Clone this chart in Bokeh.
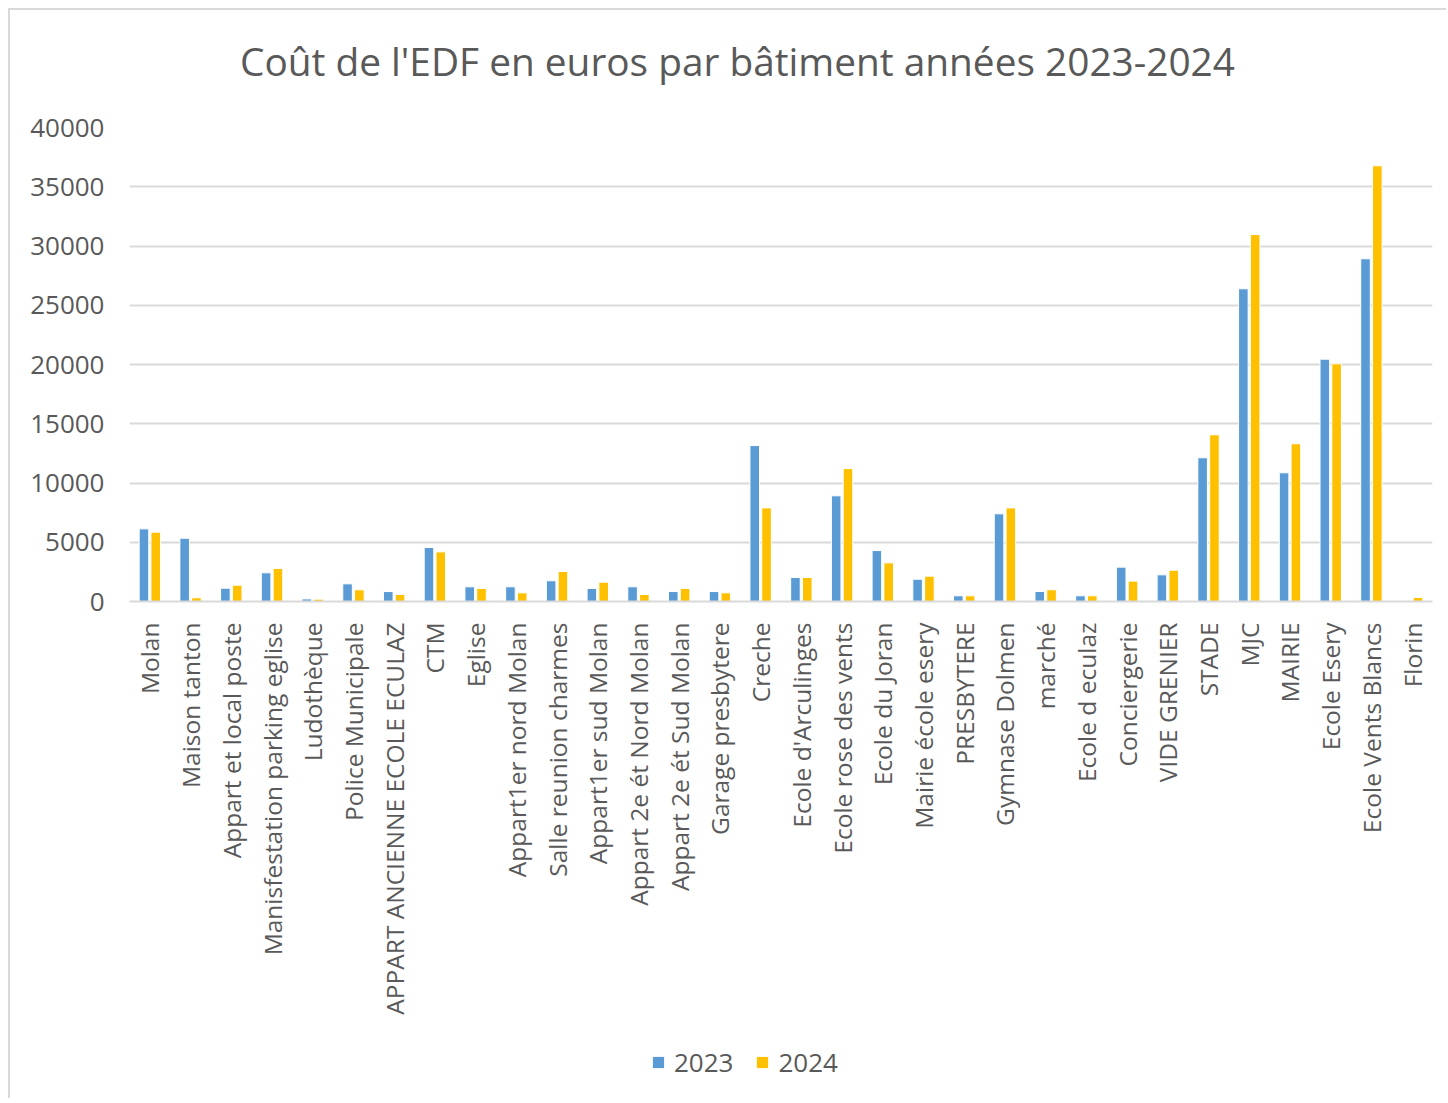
from bokeh.plotting import figure
from bokeh.layouts import column
from bokeh.models import ColumnDataSource, FactorRange, Legend, LegendItem, SingleIntervalTicker
from bokeh.core.properties import value
from bokeh.transform import dodge
from bokeh.embed import file_html
from bokeh.resources import INLINE

title_text = "Coût de l'EDF en euros par bâtiment années 2023-2024"

categories = ["Molan", "Maison tanton", "Appart et local poste", "Manisfestation parking eglise",
              "Ludothèque", "Police Municipale", "APPART ANCIENNE ECOLE ECULAZ", "CTM", "Eglise",
              "Appart1er nord Molan", "Salle reunion charmes", "Appart1er sud Molan",
              "Appart 2e ét Nord Molan", "Appart 2e ét Sud Molan", "Garage presbytere", "Creche",
              "Ecole d'Arculinges", "Ecole rose des vents", "Ecole du Joran", "Mairie école esery",
              "PRESBYTERE", "Gymnase Dolmen", "marché", "Ecole d eculaz", "Conciergerie",
              "VIDE GRENIER", "STADE", "MJC", "MAIRIE", "Ecole Esery", "Ecole Vents Blancs", "Florin"]

values_2023 = [6130, 5340, 1120, 2420, 220, 1490, 840, 4560, 1240,
               1240, 1750, 1100, 1240, 840, 840, 13160,
               2030, 8920, 4300, 1880, 480, 7400, 840, 480, 2900,
               2250, 12130, 26390, 10860, 20450, 28920, 0]

values_2024 = [5850, 310, 1380, 2790, 200, 990, 590, 4190, 1100,
               730, 2530, 1630, 590, 1100, 730, 7900,
               2030, 11220, 3260, 2140, 480, 7900, 990, 480, 1720,
               2640, 14070, 30970, 13310, 20060, 36770, 340]

series_names = ["2023", "2024"]

FONT = "Open Sans"
TXT = "#595959"
GRID = "#d9d9d9"
BLUE = "#5b9bd5"
GOLD = "#ffc000"

src = ColumnDataSource(dict(cat=categories, v23=values_2023, v24=values_2024))

# ---- title strip ----
t = figure(x_range=(0, 1), y_range=(0, 1), width=1436, height=97, output_backend="svg",
           toolbar_location=None, min_border=0, x_axis_location=None, y_axis_location=None)
t.outline_line_color = None
t.grid.grid_line_color = None
t.text(x=[0.0848], y=[0.4845], text=[title_text], text_align="left", text_baseline="middle",
       text_font=value(FONT), text_font_size="38.8px", text_color=TXT)

# ---- main chart ----
p = figure(x_range=FactorRange(*categories, range_padding=0), y_range=(0, 40000),
           width=1436, height=919, output_backend="svg", toolbar_location=None,
           min_border_left=119, min_border_right=14, min_border_top=20, min_border_bottom=425)

p.vbar(x=dodge("cat", -0.145, range=p.x_range), top="v23", width=0.235, source=src,
       fill_color=BLUE, line_color="white", line_width=1)
p.vbar(x=dodge("cat", 0.145, range=p.x_range), top="v24", width=0.235, source=src,
       fill_color=GOLD, line_color="white", line_width=1)

p.outline_line_color = None
p.xgrid.grid_line_color = None
p.ygrid.grid_line_color = GRID
p.ygrid.grid_line_width = 2
p.yaxis.ticker = SingleIntervalTicker(interval=5000)
p.yaxis.axis_line_color = None
p.yaxis.major_tick_line_color = None
p.yaxis.minor_tick_line_color = None
p.yaxis.major_label_text_font = FONT
p.yaxis.major_label_text_font_size = "26px"
p.yaxis.major_label_text_color = TXT
p.yaxis.major_label_standoff = 19

p.xaxis.axis_line_color = GRID
p.xaxis.axis_line_width = 2
p.xaxis.major_tick_line_color = None
p.xaxis.minor_tick_line_color = None
p.xaxis.major_label_orientation = 1.5707963
p.xaxis.major_label_text_font = FONT
p.xaxis.major_label_text_font_size = "24.5px"
p.xaxis.major_label_text_color = TXT
p.xaxis.major_label_standoff = 15

# ---- legend strip (bars kept out of view, only the legend shows) ----
q = figure(x_range=FactorRange(*categories, range_padding=0), y_range=(-2000000, -1000000),
           width=1436, height=72, output_backend="svg", toolbar_location=None,
           min_border=0, x_axis_location=None, y_axis_location=None)
q.outline_line_color = None
q.grid.grid_line_color = None
q1 = q.vbar(x=dodge("cat", -0.145, range=q.x_range), top="v23", width=0.0005, source=src,
            fill_color=BLUE, line_color=None)
q2 = q.vbar(x=dodge("cat", 0.145, range=q.x_range), top="v24", width=0.0005, source=src,
            fill_color=GOLD, line_color=None)
legend = Legend(items=[LegendItem(label=series_names[0], renderers=[q1]),
                       LegendItem(label=series_names[1], renderers=[q2])],
                orientation="horizontal", location=(522, 18), margin=0, padding=10,
                label_text_font=FONT, label_text_font_size="26px", label_text_color=TXT,
                glyph_width=14, glyph_height=14, spacing=22, label_standoff=9,
                border_line_color=None, background_fill_alpha=0)
q.add_layout(legend, "center")

layout = column(t, p, q, spacing=0)
layout.styles = {"margin-left": "8px", "margin-top": "8px",
                 "border-top": "2px solid #d9d9d9", "border-left": "2px solid #d9d9d9"}

open("out.html", "w").write(file_html(layout, INLINE))
